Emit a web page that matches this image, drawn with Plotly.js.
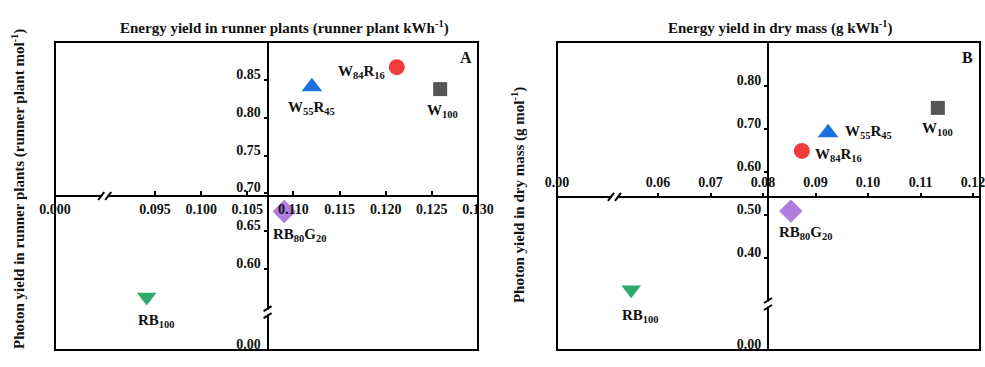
<!DOCTYPE html>
<html>
<head>
<meta charset="utf-8">
<script src="https://cdn.plot.ly/plotly-3.0.1.min.js"></script>
<style>html,body{margin:0;padding:0;background:#fff;}#chart{width:985px;height:367px;}</style>
</head>
<body>
<div id="chart"></div>
<script>
// ---- data ----
const treatments = ['W<sub>84</sub>R<sub>16</sub>', 'W<sub>55</sub>R<sub>45</sub>', 'W<sub>100</sub>', 'RB<sub>80</sub>G<sub>20</sub>', 'RB<sub>100</sub>'];
// Panel A: energy yield in runner plants (x) vs photon yield in runner plants (y)
const energyRunner = [0.1212, 0.1120, 0.1259, 0.1090, 0.0941];
const photonRunner = [0.867, 0.841, 0.838, 0.676, 0.563];
// Panel B: energy yield in dry mass (x) vs photon yield in dry mass (y)
const energyDry = [0.0874, 0.0924, 0.1133, 0.0853, 0.0549];
const photonDry = [0.649, 0.691, 0.749, 0.509, 0.326];

const tickA_x = [0.095, 0.100, 0.105, 0.110, 0.115, 0.120, 0.125, 0.130];
const tickA_xText = ['0.095', '0.100', '0.105', '0.110', '0.115', '0.120', '0.125', '0.130'];
const tickA_y = [0.60, 0.65, 0.70, 0.75, 0.80, 0.85];
const tickA_yText = ['0.60', '0.65', '0.70', '0.75', '0.80', '0.85'];
const tickB_x = [0.06, 0.07, 0.08, 0.09, 0.10, 0.11, 0.12];
const tickB_xText = ['0.06', '0.07', '0.08', '0.09', '0.10', '0.11', '0.12'];
const tickB_y = [0.40, 0.50, 0.60, 0.70, 0.80];
const tickB_yText = ['0.40', '0.50', '0.60', '0.70', '0.80'];

// ---- styles ----
const colors = ['#F23C3C', '#1E6FDD', '#555555', '#B07CDE', '#2EA96A'];
const symbols = ['circle', 'triangle-up', 'square', 'diamond', 'triangle-down'];
const sizes = [16, 18, 14, 18, 17];
// label placement per point: [xanchor, xshift, yshift]
const labA = [['right', -10, -5], ['center', 0, -21], ['center', 2, -22], ['center', 16, -23], ['center', 10, -24]];
const labB = [['left', 11, -4], ['left', 15, 1], ['center', 0, -21], ['center', 15, -22], ['center', 9, -26]];

// axis geometry (ranges, crossing points, break points)
const rangeAx = [0.08416, 0.130], rangeAy = [0.4929, 0.9003];
const rangeBx = [0.04076, 0.12133], rangeBy = [0.186, 0.9023];
const crossAx = 0.1072, crossAy = 0.6966;
const crossBx = 0.08095, crossBy = 0.5419;
const breakAx = 0.0896, breakAy = 0.5431, breakBx = 0.0518, breakBy = 0.293;
const domA = [0, 0.4573], domB = [0.5427, 1];

function frac(v, r, d) { return d[0] + (v - r[0]) / (r[1] - r[0]) * (d[1] - d[0]); }

const FONT = 'Liberation Serif, Times New Roman, serif';
const txtFont = {family: FONT, size: 15, color: '#111', weight: 'bold'};

const traces = [
  {x: energyRunner, y: photonRunner, xaxis: 'x', yaxis: 'y', type: 'scatter', mode: 'markers', cliponaxis: false,
   marker: {color: colors, symbol: symbols, size: sizes, opacity: 1, line: {width: 0}}, hoverinfo: 'none'},
  {x: energyDry, y: photonDry, xaxis: 'x2', yaxis: 'y2', type: 'scatter', mode: 'markers', cliponaxis: false,
   marker: {color: colors, symbol: symbols, size: sizes, opacity: 1, line: {width: 0}}, hoverinfo: 'none'}
];

const tickFont = {family: FONT, size: 14, color: '#111', weight: 'bold'};
const common = {showgrid: false, zeroline: false, showline: true, linewidth: 2, linecolor: '#000',
  tickwidth: 2, tickcolor: '#000', tickfont: tickFont, anchor: 'free', tickmode: 'array', ticklabeloverflow: 'allow'};

const titleFont = {family: FONT, size: 15, color: '#111', weight: 'bold'};
const layout = {
  width: 985, height: 367,
  margin: {l: 55, r: 5, t: 42, b: 17},
  paper_bgcolor: '#fff', plot_bgcolor: '#fff',
  showlegend: false,
  font: {family: FONT, size: 14, color: '#111', weight: 'bold'},
  xaxis: Object.assign({}, common, {domain: domA, range: rangeAx, side: 'bottom', ticks: 'inside', ticklen: 4,
    position: frac(crossAy, rangeAy, [0, 1]),
    tickvals: [rangeAx[0] + 1e-6].concat(tickA_x), ticktext: ['0.000'].concat(tickA_xText)}),
  yaxis: Object.assign({}, common, {domain: [0, 1], range: rangeAy, side: 'left', ticks: 'outside', ticklen: 3,
    ticklabelshift: -6, position: frac(crossAx, rangeAx, domA),
    tickvals: [rangeAy[0] + 1e-5].concat(tickA_y), ticktext: ['0.00'].concat(tickA_yText)}),
  xaxis2: Object.assign({}, common, {domain: domB, range: rangeBx, side: 'top', ticks: 'outside', ticklen: 3,
    position: frac(crossBy, rangeBy, [0, 1]),
    tickvals: [rangeBx[0] + 1e-6].concat(tickB_x), ticktext: ['0.00'].concat(tickB_xText)}),
  yaxis2: Object.assign({}, common, {domain: [0, 1], range: rangeBy, side: 'left', ticks: 'outside', ticklen: 3,
    ticklabelshift: -6, position: frac(crossBx, rangeBx, domB),
    tickvals: [rangeBy[0] + 1e-5].concat(tickB_y), ticktext: ['0.00'].concat(tickB_yText)}),
  shapes: [],
  annotations: [
    {text: 'Energy yield in runner plants (runner plant kWh<sup>-1</sup>)', xref: 'paper', yref: 'paper',
     x: 0.2476, y: 1.0487, xanchor: 'center', yanchor: 'middle', showarrow: false, font: titleFont},
    {text: 'Energy yield in dry mass (g kWh<sup>-1</sup>)', xref: 'paper', yref: 'paper',
     x: 0.7838, y: 1.0487, xanchor: 'center', yanchor: 'middle', showarrow: false, font: titleFont},
    {text: 'Photon yield in runner plants (runner plant mol<sup>-1</sup>)', xref: 'paper', yref: 'paper',
     x: -0.0400, y: 0.5227, xanchor: 'center', yanchor: 'middle', textangle: -90, showarrow: false, font: titleFont},
    {text: 'Photon yield in dry mass (g mol<sup>-1</sup>)', xref: 'paper', yref: 'paper',
     x: 0.5005, y: 0.503, xanchor: 'center', yanchor: 'middle', textangle: -90, showarrow: false, font: titleFont},
    {text: 'A', xref: 'paper', yref: 'paper', x: 0.4443, y: 0.951, xanchor: 'center', yanchor: 'middle', showarrow: false,
     font: {family: FONT, size: 16, color: '#111', weight: 'bold'}},
    {text: 'B', xref: 'paper', yref: 'paper', x: 0.987, y: 0.951, xanchor: 'center', yanchor: 'middle', showarrow: false,
     font: {family: FONT, size: 16, color: '#111', weight: 'bold'}}
  ]
};

// point labels
function addLabels(xs, ys, lab, xa, ya) {
  xs.forEach((xv, i) => layout.annotations.push({text: treatments[i], x: xv, y: ys[i], xref: xa, yref: ya,
    xanchor: lab[i][0], yanchor: 'middle', xshift: lab[i][1], yshift: lab[i][2], showarrow: false, font: txtFont}));
}
addLabels(energyRunner, photonRunner, labA, 'x', 'y');
addLabels(energyDry, photonDry, labB, 'x2', 'y2');

// frames
[['x', 'y'], ['x2', 'y2']].forEach(([xa, ya]) => {
  layout.shapes.push({type: 'rect', xref: xa + ' domain', yref: ya + ' domain', x0: 0, x1: 1, y0: 0, y1: 1,
    line: {width: 2, color: '#000'}, layer: 'above'});
});

// axis break marks
function hBreak(xa, ya, xv, yv) {
  layout.shapes.push({type: 'rect', xref: xa, yref: ya, xsizemode: 'pixel', ysizemode: 'pixel', xanchor: xv, yanchor: yv,
    x0: -3, x1: 3, y0: -2, y1: 2, fillcolor: '#fff', line: {width: 0}, layer: 'above'});
  [[-7, -1], [0, 6]].forEach(([a, b]) => layout.shapes.push({type: 'line', xref: xa, yref: ya, xsizemode: 'pixel', ysizemode: 'pixel',
    xanchor: xv, yanchor: yv, x0: a, x1: b, y0: -4, y1: 4, line: {width: 2, color: '#000'}, layer: 'above'}));
}
function vBreak(xa, ya, xv, yv) {
  layout.shapes.push({type: 'rect', xref: xa, yref: ya, xsizemode: 'pixel', ysizemode: 'pixel', xanchor: xv, yanchor: yv,
    x0: -2, x1: 2, y0: -2.5, y1: 2.5, fillcolor: '#fff', line: {width: 0}, layer: 'above'});
  [[-6, -1], [1, 6]].forEach(([a, b]) => layout.shapes.push({type: 'line', xref: xa, yref: ya, xsizemode: 'pixel', ysizemode: 'pixel',
    xanchor: xv, yanchor: yv, x0: -4, x1: 4, y0: a, y1: b, line: {width: 2, color: '#000'}, layer: 'above'}));
}
hBreak('x', 'y', breakAx, crossAy);
vBreak('x', 'y', crossAx, breakAy);
hBreak('x2', 'y2', breakBx, crossBy);
vBreak('x2', 'y2', crossBx, breakBy);

Plotly.newPlot('chart', traces, layout, {staticPlot: true, displayModeBar: false});
</script>
</body>
</html>
